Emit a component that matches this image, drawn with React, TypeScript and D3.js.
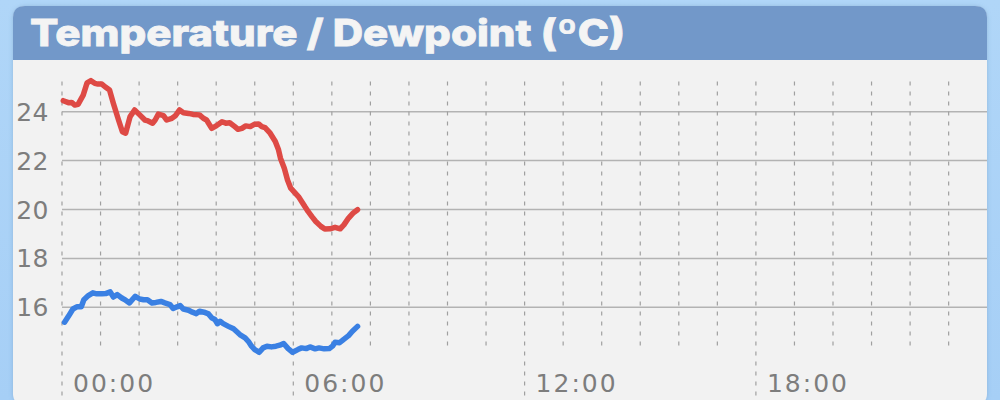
import React from "react";
import * as d3 from "d3";

// Temperature series: minutes after midnight, °C
const tempMinutes = [2, 10, 15, 20, 25, 33, 39, 45, 51, 56, 62, 67, 74, 80, 88, 94, 99, 106, 113, 121, 129, 134, 141, 145, 150, 158, 163, 171, 176, 183, 189, 197, 204, 214, 220, 225, 233, 240, 249, 255, 261, 269, 274, 280, 286, 293, 300, 306, 311, 316, 324, 332, 337, 340, 346, 351, 356, 363, 368, 373, 378, 383, 389, 395, 403, 409, 417, 425, 433, 439, 446, 453, 460];
const tempValues = [24.45, 24.37, 24.38, 24.27, 24.3, 24.68, 25.18, 25.27, 25.16, 25.13, 25.13, 25.02, 24.89, 24.34, 23.66, 23.18, 23.12, 23.8, 24.07, 23.87, 23.66, 23.62, 23.53, 23.66, 23.9, 23.84, 23.66, 23.73, 23.82, 24.07, 23.96, 23.93, 23.89, 23.87, 23.73, 23.66, 23.32, 23.42, 23.59, 23.53, 23.55, 23.39, 23.28, 23.32, 23.42, 23.39, 23.49, 23.5, 23.39, 23.35, 23.12, 22.78, 22.44, 22.1, 21.69, 21.21, 20.87, 20.67, 20.53, 20.33, 20.12, 19.92, 19.71, 19.51, 19.31, 19.2, 19.21, 19.27, 19.21, 19.38, 19.65, 19.85, 19.99];

// Dewpoint series: minutes after midnight, °C
const dewMinutes = [4, 10, 17, 23, 30, 34, 41, 48, 54, 62, 68, 75, 80, 86, 93, 99, 105, 114, 121, 127, 133, 140, 146, 154, 160, 168, 173, 179, 184, 189, 197, 203, 209, 214, 221, 228, 233, 238, 242, 246, 251, 259, 267, 273, 278, 285, 290, 295, 300, 307, 313, 319, 326, 333, 339, 345, 352, 359, 367, 373, 380, 386, 394, 400, 408, 416, 421, 425, 432, 438, 446, 452, 460];
const dewValues = [15.39, 15.63, 15.93, 16.02, 16.02, 16.31, 16.48, 16.59, 16.55, 16.55, 16.56, 16.63, 16.42, 16.52, 16.38, 16.29, 16.18, 16.45, 16.34, 16.31, 16.31, 16.18, 16.2, 16.24, 16.18, 16.11, 15.95, 16.02, 16.07, 15.93, 15.88, 15.8, 15.74, 15.84, 15.8, 15.73, 15.57, 15.5, 15.33, 15.43, 15.33, 15.22, 15.12, 14.98, 14.86, 14.75, 14.61, 14.41, 14.27, 14.16, 14.34, 14.41, 14.38, 14.41, 14.45, 14.52, 14.31, 14.16, 14.27, 14.34, 14.31, 14.38, 14.3, 14.34, 14.3, 14.31, 14.41, 14.57, 14.55, 14.68, 14.84, 15.02, 15.22];

const yTicks = [16, 18, 20, 22, 24];
const hourGrid = d3.range(0, 24); // one gridline per hour
const xTickLabels = ["00:00", "06:00", "12:00", "18:00"];
const xTickMinutes = [0, 360, 720, 1080];
const title = "Temperature / Dewpoint (ºC)";

export default function App() {
  const x = d3.scaleLinear().domain([0, 1440]).range([62, 987.2]);
  const y = d3.scaleLinear().domain([16, 24]).range([307.3, 111.7]);

  const temp = tempMinutes.map((m, i) => [m, tempValues[i]] as [number, number]);
  const dew = dewMinutes.map((m, i) => [m, dewValues[i]] as [number, number]);
  const line = d3
    .line<[number, number]>()
    .x((d) => x(d[0]))
    .y((d) => y(d[1]))
    .curve(d3.curveLinear);

  const panelX = 13, panelY = 6, panelW = 974, panelH = 400, r = 12, headerH = 54;
  const headerPath = `M${panelX},${panelY + headerH} V${panelY + r} Q${panelX},${panelY} ${panelX + r},${panelY} H${panelX + panelW - r} Q${panelX + panelW},${panelY} ${panelX + panelW},${panelY + r} V${panelY + headerH} Z`;

  const font = "Inter, 'Open Sans', 'DejaVu Sans', sans-serif";
  const labelFont = "'DejaVu Sans', Inter, sans-serif";

  return (
    <svg width={1000} height={400} style={{ position: "absolute", left: 0, top: 0 }}>
      <defs>
        <linearGradient id="bg" x1="0" y1="0" x2="0" y2="1">
          <stop offset="0" stopColor="#b0d6f8" />
          <stop offset="1" stopColor="#a6cff6" />
        </linearGradient>
        <filter id="sh" x="-5%" y="-5%" width="110%" height="115%">
          <feDropShadow dx="0" dy="0" stdDeviation="2" floodColor="#5a7fa8" floodOpacity="0.35" />
        </filter>
      </defs>
      <rect x={0} y={0} width={1000} height={400} fill="url(#bg)" />
      <rect x={panelX} y={panelY} width={panelW} height={panelH} rx={r} fill="#f2f2f2" filter="url(#sh)" />
      <path d={headerPath} fill="#7298c9" />
      <text x={30} y={46} fill="#f4f4f4" fontFamily={font} fontWeight={800} fontSize={37} textLength={595} lengthAdjust="spacingAndGlyphs" stroke="#f4f4f4" strokeWidth={0.8}>
        {title}
      </text>

      {/* horizontal gridlines */}
      {yTicks.map((t) => (
        <line key={"h" + t} x1={62} x2={987} y1={y(t)} y2={y(t)} stroke="#b3b3b3" strokeWidth={1.5} />
      ))}
      {/* vertical dashed gridlines */}
      {hourGrid.map((h) => {
        const major = h % 6 === 0;
        return (
          <line
            key={"v" + h}
            x1={x(h * 60)}
            x2={x(h * 60)}
            y1={81.5}
            y2={major ? 400 : 350}
            stroke="#a0a0a0"
            strokeWidth={1.2}
            strokeDasharray="4,6"
          />
        );
      })}

      {/* y labels */}
      {yTicks.map((t) => (
        <text key={"yl" + t} x={49} y={y(t)} dy="0.36em" textAnchor="end" fill="#7d7d7d" fontFamily={labelFont} fontSize={25} letterSpacing={0.5}>
          {t}
        </text>
      ))}
      {/* x labels */}
      {xTickLabels.map((l, i) => (
        <text key={"xl" + l} x={x(xTickMinutes[i]) + 11} y={392} fill="#7d7d7d" fontFamily={labelFont} fontSize={25} letterSpacing={2}>
          {l}
        </text>
      ))}

      <path d={line(temp) || ""} fill="none" stroke="#de4a45" strokeWidth={5.5} strokeLinejoin="round" strokeLinecap="round" />
      <path d={line(dew) || ""} fill="none" stroke="#3a80e3" strokeWidth={5.5} strokeLinejoin="round" strokeLinecap="round" />
    </svg>
  );
}
